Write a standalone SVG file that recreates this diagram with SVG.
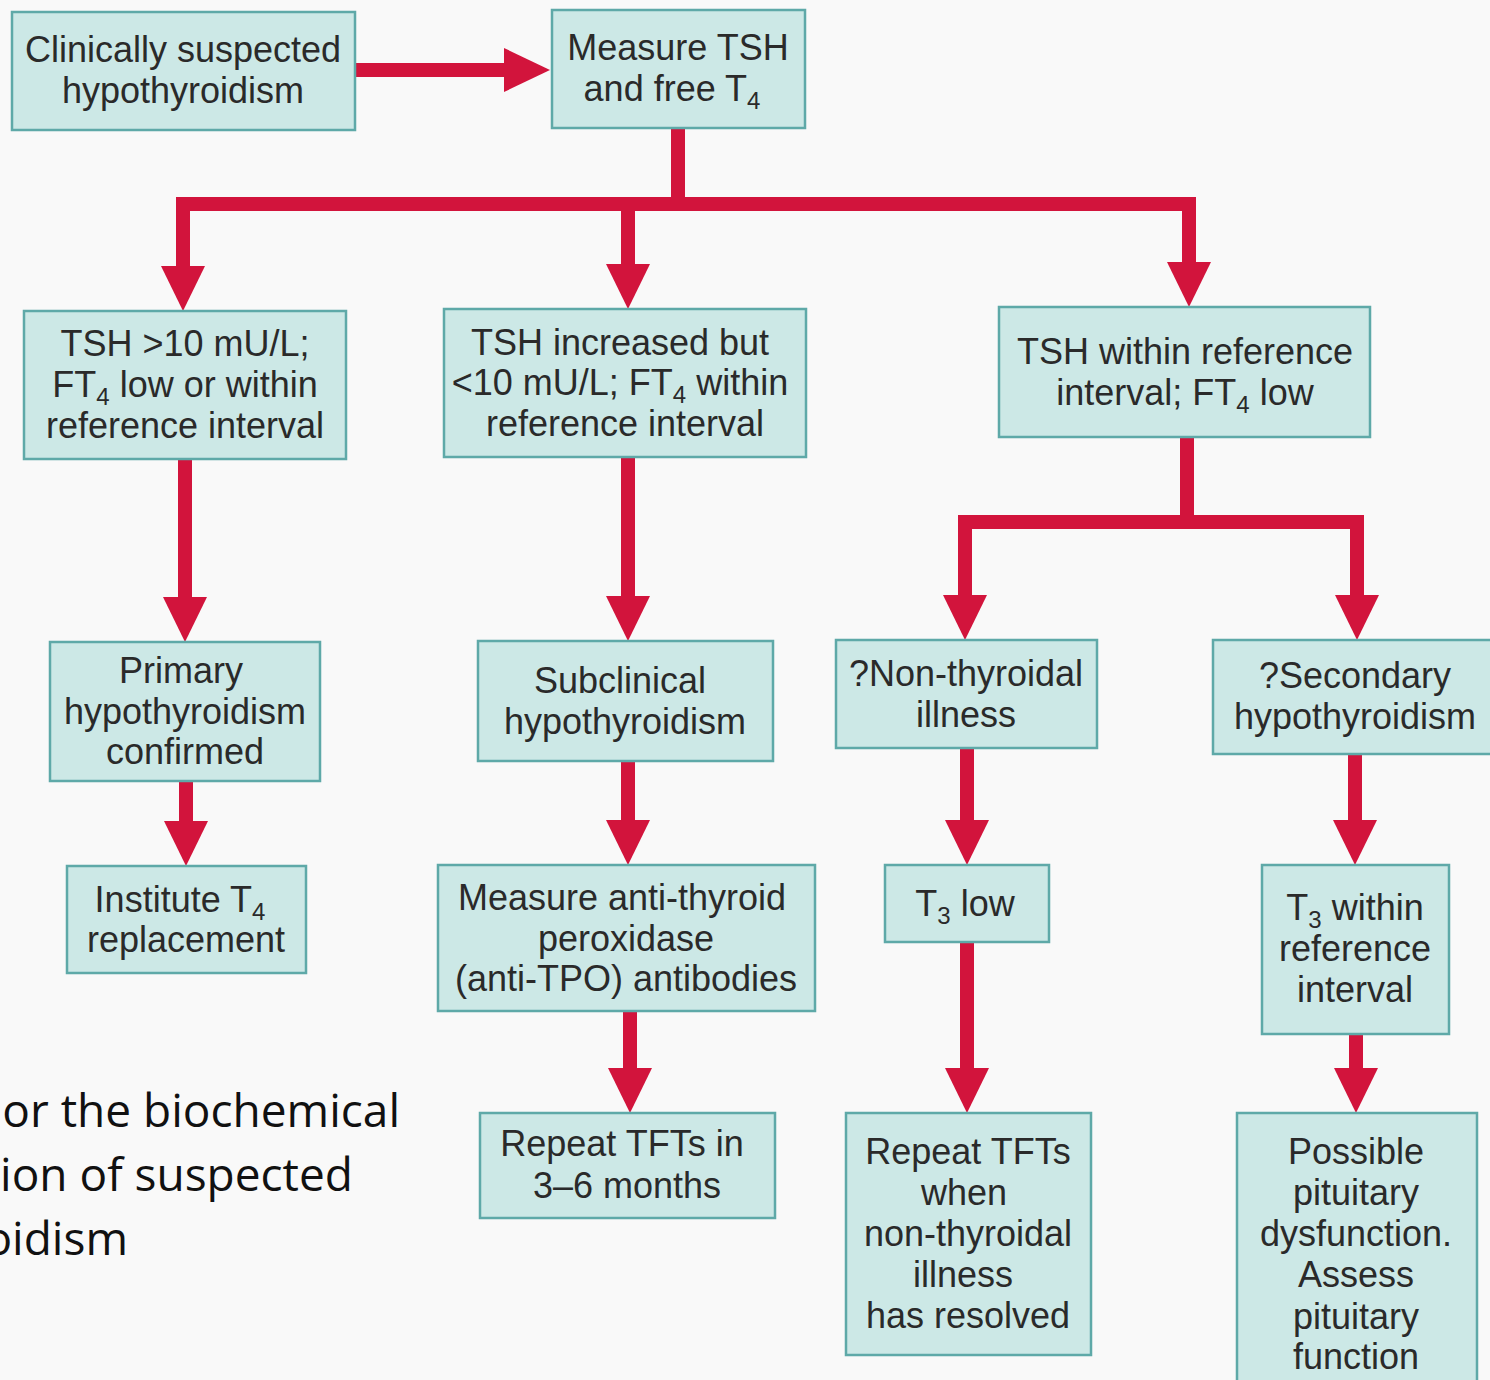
<svg xmlns="http://www.w3.org/2000/svg" width="1490" height="1380" viewBox="0 0 1490 1380">
<defs>
<style>
.box{fill:#cce8e6;stroke:#5ea9a8;stroke-width:2.5}
.t{font-family:"Liberation Sans",Arial,sans-serif;font-size:36px;fill:#2a2a2a;text-anchor:middle}
.cap{font-family:"Open Sans","Noto Sans",sans-serif;font-size:46px;fill:#111;text-anchor:end}
.ln{fill:none;stroke:#d2143c;stroke-width:14;stroke-linejoin:miter}
.hd{fill:#d2143c}
</style>
</defs>
<rect width="1490" height="1380" fill="#f9f9f9"/>
<g id="connectors">
<path class="ln" d="M355 70 H512"/>
<polygon class="hd" points="504,48 550,70 504,92"/>
<path class="ln" d="M678 128 V204 M183 204 H1189 M183 197 V270 M628 204 V270 M1189 197 V268"/>
<polygon class="hd" points="161,266 205,266 183,311"/>
<polygon class="hd" points="606,264 650,264 628,309"/>
<polygon class="hd" points="1167,262 1211,262 1189,307"/>
<path class="ln" d="M185 459 V600"/>
<polygon class="hd" points="163,597 207,597 185,642"/>
<path class="ln" d="M628 457 V600"/>
<polygon class="hd" points="606,596 650,596 628,641"/>
<path class="ln" d="M1187 437 V522 M965 522 H1357 M965 515 V600 M1357 515 V600"/>
<polygon class="hd" points="943,595 987,595 965,640"/>
<polygon class="hd" points="1335,595 1379,595 1357,640"/>
<path class="ln" d="M186 781 V825"/>
<polygon class="hd" points="164,821 208,821 186,866"/>
<path class="ln" d="M628 761 V825"/>
<polygon class="hd" points="606,820 650,820 628,865"/>
<path class="ln" d="M967 748 V825"/>
<polygon class="hd" points="945,820 989,820 967,865"/>
<path class="ln" d="M1355 754 V825"/>
<polygon class="hd" points="1333,820 1377,820 1355,865"/>
<path class="ln" d="M630 1011 V1072"/>
<polygon class="hd" points="608,1068 652,1068 630,1113"/>
<path class="ln" d="M967 942 V1072"/>
<polygon class="hd" points="945,1068 989,1068 967,1113"/>
<path class="ln" d="M1356 1034 V1072"/>
<polygon class="hd" points="1334,1068 1378,1068 1356,1113"/>
</g>
<g id="n1"><rect class="box" x="12" y="12" width="343" height="118"/>
<text class="t" x="183" y="62">Clinically suspected</text><text class="t" x="183" y="103">hypothyroidism</text></g>
<g id="n2"><rect class="box" x="552" y="10" width="253" height="118"/>
<text class="t" x="678" y="60">Measure TSH</text><text class="t" x="672" y="101">and free T<tspan font-size="24" dy="8">4</tspan></text></g>
<g id="n3"><rect class="box" x="24" y="311" width="322" height="148"/>
<text class="t" x="185" y="356">TSH &gt;10 mU/L;</text>
<text class="t" x="185" y="397">FT<tspan font-size="24" dy="8">4</tspan><tspan dy="-8"> low or within</tspan></text>
<text class="t" x="185" y="438">reference interval</text></g>
<g id="n4"><rect class="box" x="444" y="309" width="362" height="148"/>
<text class="t" x="620" y="355">TSH increased but</text>
<text class="t" x="620" y="395">&lt;10 mU/L; FT<tspan font-size="24" dy="8">4</tspan><tspan dy="-8"> within</tspan></text>
<text class="t" x="625" y="436">reference interval</text></g>
<g id="n5"><rect class="box" x="999" y="307" width="371" height="130"/>
<text class="t" x="1185" y="364">TSH within reference</text>
<text class="t" x="1185" y="405">interval; FT<tspan font-size="24" dy="8">4</tspan><tspan dy="-8"> low</tspan></text></g>
<g id="n6"><rect class="box" x="50" y="642" width="270" height="139"/>
<text class="t" x="181" y="683">Primary</text><text class="t" x="185" y="724">hypothyroidism</text><text class="t" x="185" y="764">confirmed</text></g>
<g id="n7"><rect class="box" x="478" y="641" width="295" height="120"/>
<text class="t" x="620" y="693">Subclinical</text><text class="t" x="625" y="734">hypothyroidism</text></g>
<g id="n8"><rect class="box" x="836" y="640" width="261" height="108"/>
<text class="t" x="966" y="686">?Non-thyroidal</text><text class="t" x="966" y="727">illness</text></g>
<g id="n9"><rect class="box" x="1213" y="640" width="290" height="114"/>
<text class="t" x="1355" y="688">?Secondary</text><text class="t" x="1355" y="729">hypothyroidism</text></g>
<g id="n10"><rect class="box" x="67" y="866" width="239" height="107"/>
<text class="t" x="180" y="912">Institute T<tspan font-size="24" dy="8">4</tspan></text><text class="t" x="186" y="952">replacement</text></g>
<g id="n11"><rect class="box" x="438" y="865" width="377" height="146"/>
<text class="t" x="622" y="910">Measure anti-thyroid</text><text class="t" x="626" y="951">peroxidase</text><text class="t" x="626" y="991">(anti-TPO) antibodies</text></g>
<g id="n12"><rect class="box" x="885" y="865" width="164" height="77"/>
<text class="t" x="965" y="916">T<tspan font-size="24" dy="8">3</tspan><tspan dy="-8"> low</tspan></text></g>
<g id="n13"><rect class="box" x="1262" y="865" width="187" height="169"/>
<text class="t" x="1355" y="920">T<tspan font-size="24" dy="8">3</tspan><tspan dy="-8"> within</tspan></text><text class="t" x="1355" y="961">reference</text><text class="t" x="1355" y="1002">interval</text></g>
<g id="n14"><rect class="box" x="480" y="1113" width="295" height="105"/>
<text class="t" x="622" y="1156">Repeat TFTs in</text><text class="t" x="627" y="1198">3–6 months</text></g>
<g id="n15"><rect class="box" x="846" y="1113" width="245" height="242"/>
<text class="t" x="968" y="1164">Repeat TFTs</text><text class="t" x="964" y="1205">when</text><text class="t" x="968" y="1246">non-thyroidal</text><text class="t" x="963" y="1287">illness</text><text class="t" x="968" y="1328">has resolved</text></g>
<g id="n16"><rect class="box" x="1237" y="1113" width="240" height="280"/>
<text class="t" x="1356" y="1164">Possible</text><text class="t" x="1356" y="1205">pituitary</text><text class="t" x="1356" y="1246">dysfunction.</text><text class="t" x="1356" y="1287">Assess</text><text class="t" x="1356" y="1329">pituitary</text><text class="t" x="1356" y="1369">function</text></g>
<g id="caption">
<text class="cap" x="400" y="1127">or the biochemical</text>
<text class="cap" x="353" y="1191">ion of suspected</text>
<text class="cap" x="128" y="1255">oidism</text>
</g>
</svg>
